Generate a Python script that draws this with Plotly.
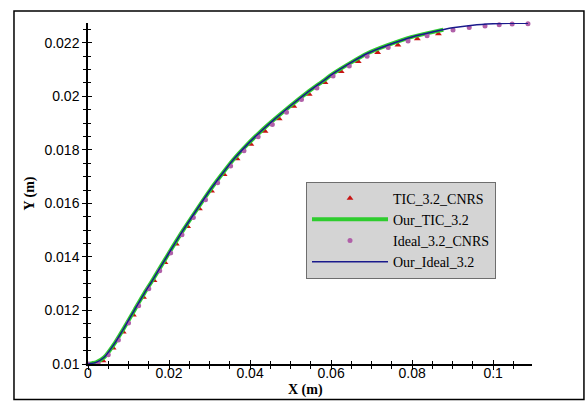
import plotly.graph_objects as go

# ---- data ----
line_x = [0, 0.002, 0.004, 0.0067, 0.009, 0.0116, 0.014, 0.0158, 0.0198, 0.0235,
          0.027, 0.0301, 0.033, 0.0358, 0.039, 0.0425, 0.046, 0.05, 0.0541, 0.058,
          0.0605, 0.065, 0.0689, 0.0738, 0.08, 0.085, 0.09, 0.095, 0.1, 0.105, 0.1086]
line_y = [0.01, 0.01006, 0.01025, 0.0108, 0.01137, 0.01205, 0.01267, 0.0131, 0.0141, 0.015,
          0.0158, 0.01649, 0.01708, 0.01762, 0.01815, 0.01867, 0.01914, 0.01965, 0.02014, 0.02057,
          0.02085, 0.02127, 0.0216, 0.0219, 0.02222, 0.0224, 0.02256, 0.02266, 0.02271, 0.02273, 0.02273]

tic_line_x = [0, 0.002, 0.004, 0.0067, 0.009, 0.0116, 0.014, 0.0158, 0.0198, 0.0235,
              0.027, 0.0301, 0.033, 0.0358, 0.039, 0.0425, 0.046, 0.05, 0.0541, 0.058,
              0.0605, 0.065, 0.0689, 0.0738, 0.08, 0.085, 0.0877]
tic_line_y = [0.01, 0.01006, 0.01025, 0.0108, 0.01137, 0.01205, 0.01267, 0.0131, 0.0141, 0.015,
              0.0158, 0.01649, 0.01708, 0.01762, 0.01815, 0.01867, 0.01914, 0.01965, 0.02014, 0.02057,
              0.02085, 0.02127, 0.0216, 0.0219, 0.02222, 0.0224, 0.02249]

ideal_pts_x = [0, 0.0025, 0.005, 0.0075, 0.01, 0.0125, 0.015, 0.0177, 0.0204, 0.0232,
               0.026, 0.029, 0.032, 0.0352, 0.0385, 0.042, 0.0455, 0.049, 0.0527, 0.0565,
               0.0605, 0.0645, 0.0689, 0.0741, 0.079, 0.0837, 0.0901, 0.0941, 0.098, 0.1015,
               0.1047, 0.1086]
ideal_pts_y = [0.01, 0.01002, 0.01035, 0.0109, 0.01153, 0.01218, 0.01281, 0.01348, 0.01415, 0.01483,
               0.01547, 0.01614, 0.01677, 0.0174, 0.01797, 0.01849, 0.01895, 0.01941, 0.01988, 0.02031,
               0.02076, 0.02113, 0.0215, 0.02182, 0.02207, 0.02226, 0.02248, 0.02257, 0.02263, 0.02267,
               0.0227, 0.02271]

tic_pts_x = [0.0012, 0.0037, 0.0062, 0.0087, 0.0112, 0.0137, 0.0163, 0.019, 0.0218, 0.0246,
             0.0275, 0.0305, 0.0336, 0.0368, 0.0402, 0.0437, 0.0472, 0.0508, 0.0546, 0.0585,
             0.0625, 0.0667, 0.0715, 0.0765, 0.0813, 0.0865]
tic_pts_y = [0.01001, 0.01012, 0.0106, 0.0112, 0.01183, 0.01249, 0.01312, 0.01379, 0.01448, 0.01514,
             0.0158, 0.01646, 0.01708, 0.01767, 0.01821, 0.0187, 0.01916, 0.01963, 0.02008, 0.02052,
             0.02093, 0.0213, 0.02164, 0.02192, 0.02215, 0.02234]

x_ticks = [0, 0.02, 0.04, 0.06, 0.08, 0.1]
x_tick_text = ["0", "0.02", "0.04", "0.06", "0.08", "0.1"]
y_ticks = [0.01, 0.012, 0.014, 0.016, 0.018, 0.02, 0.022]
y_tick_text = ["0.01", "0.012", "0.014", "0.016", "0.018", "0.02", "0.022"]

names = ["TIC_3.2_CNRS", "Our_TIC_3.2", "Ideal_3.2_CNRS", "Our_Ideal_3.2"]
x_title = "<b>X (m)</b>"
y_title = "<b>Y (m)</b>"

X_RANGE = [0, 0.1096]
Y_RANGE = [0.01, 0.02274]

fig = go.Figure()
fig.add_trace(go.Scatter(x=tic_pts_x, y=tic_pts_y, mode="markers", name=names[0],
                         marker=dict(symbol="triangle-up", size=6, color="#c81414"),
                         cliponaxis=False))
fig.add_trace(go.Scatter(x=tic_line_x, y=tic_line_y, mode="lines", name=names[1],
                         line=dict(color="#2ecc2e", width=4, shape="spline", smoothing=0.6),
                         cliponaxis=False))
fig.add_trace(go.Scatter(x=ideal_pts_x, y=ideal_pts_y, mode="markers", name=names[2],
                         marker=dict(symbol="circle", size=5, color="#b060a8"),
                         cliponaxis=False))
fig.add_trace(go.Scatter(x=line_x, y=line_y, mode="lines", name=names[3],
                         line=dict(color="#1a1a8c", width=1.5, shape="spline", smoothing=0.6),
                         cliponaxis=False))

tick_font = dict(family="Liberation Sans, Arial, sans-serif", size=14, color="black")
title_font = dict(family="Liberation Serif, Times New Roman, serif", size=14, color="black")

common = dict(showline=True, linecolor="black", linewidth=1.5, showgrid=False,
              zeroline=False, ticks="outside", ticklen=4, tickwidth=1.2, tickcolor="black",
              automargin=False)

fig.update_layout(
    width=587, height=401,
    margin=dict(l=88, r=55, t=23, b=37),
    paper_bgcolor="white", plot_bgcolor="white",
    showlegend=True,
    legend=dict(x=0.491, y=0.535, xanchor="left", yanchor="top",
                bgcolor="#d4d4d4", bordercolor="#6e6e6e", borderwidth=1,
                font=dict(family="Liberation Serif, Times New Roman, serif", size=14, color="black"),
                itemwidth=76, tracegroupgap=0),
    xaxis=dict(range=X_RANGE, tickvals=x_ticks, ticktext=x_tick_text, tickfont=tick_font,
               minor=dict(dtick=0.005, tick0=0, ticks="outside", ticklen=3, tickcolor="black"),
               ticklabelstandoff=-9,
               anchor="y", **common),
    yaxis=dict(range=Y_RANGE, tickvals=y_ticks, ticktext=y_tick_text, tickfont=tick_font,
               minor=dict(dtick=0.0005, tick0=0.01, ticks="outside", ticklen=3, tickcolor="black"),
               title=dict(text=y_title, font=title_font, standoff=7),
               anchor="x", **common),
    xaxis2=dict(range=X_RANGE, overlaying="x", anchor="y", tickvals=x_ticks, showticklabels=False,
                ticks="inside", ticklen=4, tickwidth=1.2, tickcolor="black", showline=False,
                showgrid=False, zeroline=False, automargin=False,
                minor=dict(dtick=0.005, tick0=0, ticks="inside", ticklen=3, tickcolor="black")),
    yaxis2=dict(range=Y_RANGE, overlaying="y", anchor="x", tickvals=y_ticks, showticklabels=False,
                ticks="inside", ticklen=4, tickwidth=1.2, tickcolor="black", showline=False,
                showgrid=False, zeroline=False, automargin=False,
                minor=dict(dtick=0.0005, tick0=0.01, ticks="inside", ticklen=3, tickcolor="black")),
)

# x-axis title placed just under the tick labels
fig.add_annotation(text=x_title, xref="paper", yref="paper", x=0.489, y=-0.076,
                   xanchor="center", yanchor="middle", showarrow=False, font=title_font)

# invisible helper trace so the overlay axes (inside half of crossing ticks) render
fig.add_trace(go.Scatter(x=[X_RANGE[0]], y=[Y_RANGE[0]], xaxis="x2", yaxis="y2", mode="markers",
                         marker=dict(opacity=0), showlegend=False, hoverinfo="skip"))

# outer frame
fig.add_shape(type="rect", xref="paper", yref="paper", x0=-0.1667, x1=1.117, y0=-0.104, y1=1.035,
              line=dict(color="black", width=1.5), fillcolor="rgba(0,0,0,0)", layer="below")

fig.write_html("out.html")
